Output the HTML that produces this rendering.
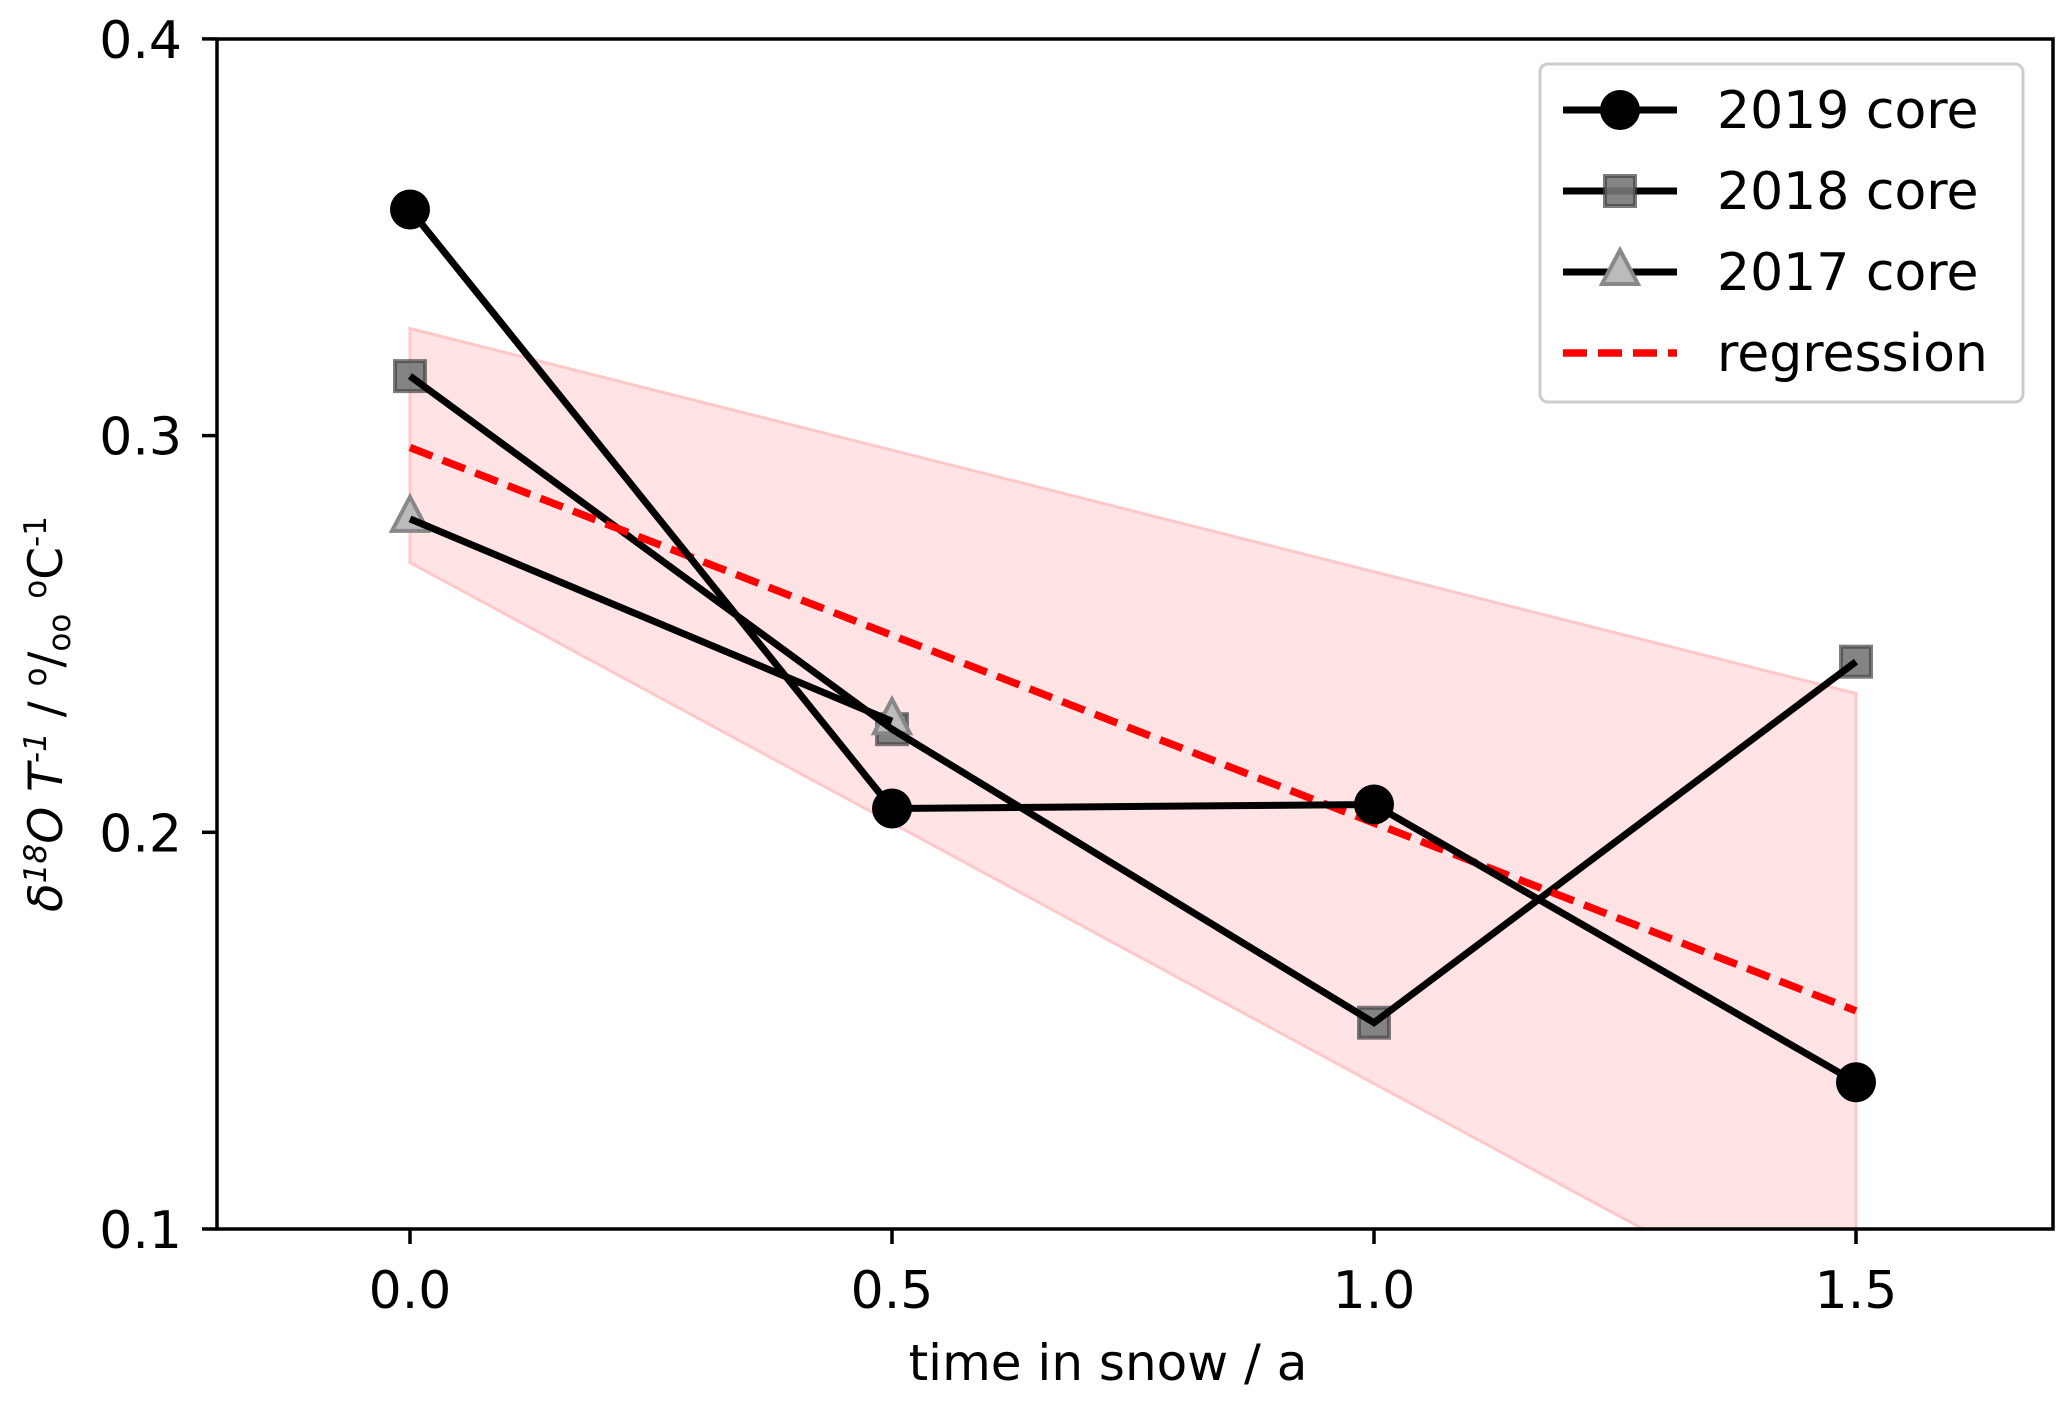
<!DOCTYPE html>
<html><head><meta charset="utf-8"><style>
html,body{margin:0;padding:0;background:#fff}
svg{display:block;font-family:"DejaVu Sans","Liberation Sans",sans-serif}
</style></head><body>
<svg id="chart" width="2067" height="1403" xmlns="http://www.w3.org/2000/svg">
<defs><clipPath id="pc"><rect x="217" y="39" width="1836" height="1190"/></clipPath></defs>
<g id="band" clip-path="url(#pc)"></g>
<g id="marks"></g>
<rect x="217" y="39" width="1836" height="1190" fill="none" stroke="#000" stroke-width="3.5"/>
<g id="ticks"></g>
<text x="1108" y="1380" font-size="50" text-anchor="middle">time in snow / a</text>
<text transform="translate(62,714) rotate(-90)" font-size="47" text-anchor="middle"><tspan font-style="italic">δ</tspan><tspan font-size="31" dy="-16" font-style="italic">18</tspan><tspan dy="16" font-style="italic">O T</tspan><tspan font-size="31" dy="-16" font-style="italic">-1</tspan><tspan dy="16"> / </tspan><tspan font-size="31" dy="-16">o</tspan><tspan dy="16">/</tspan><tspan font-size="31" dy="8">oo</tspan><tspan dy="-8"> </tspan><tspan font-size="31" dy="-16">o</tspan><tspan dy="16">C</tspan><tspan font-size="31" dy="-16">-1</tspan></text>
<g id="legend">
<rect x="1540" y="64" width="483" height="338" rx="8" fill="#fff" fill-opacity="0.8" stroke="#ccc" stroke-width="3"/>
</g>
</svg>
<script>
const xs=[0,0.5,1.0,1.5];
const core2019=[0.357,0.206,0.207,0.137];
const core2018=[0.315,0.226,0.152,0.243];
const x2017=[0,0.5];
const core2017=[0.279,0.228];
const regX=[0,1.5];
const regY=[0.297,0.155];
const bandUpper=[0.327,0.235];
const bandLower=[0.268,0.071];
const xTicks=[0,0.5,1.0,1.5];
const xTickLabels=["0.0","0.5","1.0","1.5"];
const yTicks=[0.1,0.2,0.3,0.4];
const yTickLabels=["0.1","0.2","0.3","0.4"];

const X=v=>410+(v)*964;
const Y=v=>1229-(v-0.1)*3967;
const NS="http://www.w3.org/2000/svg";
function mk(t,a,p){const e=document.createElementNS(NS,t);for(const k in a)e.setAttribute(k,a[k]);p.appendChild(e);return e;}
const band=document.getElementById('band'),marks=document.getElementById('marks'),ticks=document.getElementById('ticks'),legend=document.getElementById('legend');

let bp=`${X(regX[0])},${Y(bandUpper[0])} ${X(regX[1])},${Y(bandUpper[1])} ${X(regX[1])},${Y(bandLower[1])} ${X(regX[0])},${Y(bandLower[0])}`;
let b=mk('polygon',{points:bp,fill:'#ffe3e5',stroke:'#ffc8c8','stroke-width':3},band);



function line(xv,yv,attrs,name){const pts=xv.map((x,i)=>X(x)+','+Y(yv[i])).join(' ');const l=mk('polyline',Object.assign({points:pts,fill:'none'},attrs),marks);}
function marker(kind,cx,cy,parent,name){let e;
 if(kind==='c')e=mk('circle',{cx,cy,r:20,fill:'#000'},parent);
 else if(kind==='s')e=mk('rect',{x:cx-15,y:cy-15,width:30,height:30,fill:'#777','fill-opacity':0.9,stroke:'#444','stroke-width':4,'stroke-opacity':0.7},parent);
 else e=mk('polygon',{points:`${cx},${cy-22} ${cx+18},${cy+12} ${cx-18},${cy+12}`,fill:'#bbb',stroke:'#888','stroke-width':4},parent);
 }

xs.forEach((x,i)=>marker('s',X(x),Y(core2018[i]),marks,'marker-2018-'+i));
x2017.forEach((x,i)=>marker('t',X(x),Y(core2017[i]),marks,'marker-2017-'+i));
line(xs,core2018,{stroke:'#000','stroke-width':7},'line-2018-core');
line(x2017,core2017,{stroke:'#000','stroke-width':7},'line-2017-core');
line(regX,regY,{stroke:'#f00','stroke-width':7.5,'stroke-dasharray':'24,11'},'regression-line');
line(xs,core2019,{stroke:'#000','stroke-width':7},'line-2019-core');
xs.forEach((x,i)=>marker('c',X(x),Y(core2019[i]),marks,'marker-2019-'+i));

xTicks.forEach((v,i)=>{const l=mk('line',{x1:X(v),x2:X(v),y1:1229,y2:1244,stroke:'#000','stroke-width':3.5},ticks);
 const t=mk('text',{x:X(v),y:1308,'font-size':52,'text-anchor':'middle'},ticks);t.textContent=xTickLabels[i];});
yTicks.forEach((v,i)=>{const l=mk('line',{x1:202,x2:217,y1:Y(v),y2:Y(v),stroke:'#000','stroke-width':3.5},ticks);
 const t=mk('text',{x:182,y:Y(v)+19,'font-size':52,'text-anchor':'end'},ticks);t.textContent=yTickLabels[i];});

const leg=[['c','2019 core'],['s','2018 core'],['t','2017 core'],['r','regression']];
leg.forEach((e,i)=>{const y=110+i*81;
 if(e[0]==='r'){const l=mk('line',{x1:1563,x2:1677,y1:y,y2:y,stroke:'#f00','stroke-width':7.5,'stroke-dasharray':'24,11'},legend);}
 else{const l=mk('line',{x1:1563,x2:1677,y1:y,y2:y,stroke:'#000','stroke-width':7},legend);marker(e[0],1620,y,legend,'legend-marker');}
 const t=mk('text',{x:1717,y:y+18,'font-size':52},legend);t.textContent=e[1];});
</script>
</body></html>
